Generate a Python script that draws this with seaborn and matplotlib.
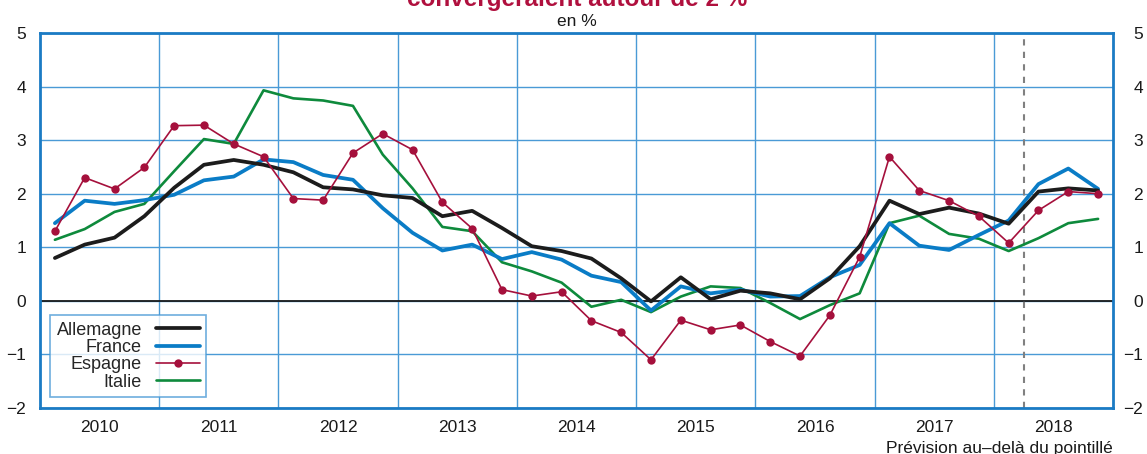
import pandas as pd
import matplotlib
matplotlib.use("Agg")
import matplotlib.pyplot as plt
import matplotlib.transforms as mtrans
import seaborn as sns

# --- Data: quarterly inflation, 2010Q1 -> 2018Q4 (en %) ---
years = [2010, 2011, 2012, 2013, 2014, 2015, 2016, 2017, 2018]
allemagne = [0.80, 1.05, 1.18, 1.58, 2.11, 2.54, 2.63, 2.54, 2.40, 2.12, 2.08, 1.97,
             1.92, 1.58, 1.68, 1.36, 1.02, 0.93, 0.79, 0.42, -0.01, 0.44, 0.03, 0.19,
             0.14, 0.03, 0.42, 1.02, 1.87, 1.62, 1.74, 1.63, 1.44, 2.04, 2.10, 2.06]
france = [1.45, 1.87, 1.81, 1.88, 1.98, 2.25, 2.32, 2.64, 2.59, 2.35, 2.26, 1.73,
          1.27, 0.94, 1.05, 0.78, 0.91, 0.77, 0.47, 0.35, -0.18, 0.27, 0.14, 0.21,
          0.08, 0.09, 0.44, 0.67, 1.45, 1.03, 0.95, 1.23, 1.50, 2.18, 2.47, 2.09]
espagne = [1.30, 2.30, 2.09, 2.49, 3.27, 3.28, 2.93, 2.69, 1.91, 1.88, 2.76, 3.12,
           2.82, 1.84, 1.35, 0.21, 0.09, 0.17, -0.37, -0.59, -1.10, -0.36, -0.54, -0.45,
           -0.76, -1.03, -0.27, 0.82, 2.69, 2.06, 1.87, 1.58, 1.08, 1.69, 2.04, 2.00]
italie = [1.14, 1.34, 1.66, 1.81, 2.42, 3.02, 2.93, 3.93, 3.78, 3.74, 3.64, 2.73,
          2.10, 1.38, 1.30, 0.72, 0.55, 0.34, -0.11, 0.02, -0.21, 0.08, 0.27, 0.24,
          -0.04, -0.34, -0.08, 0.14, 1.45, 1.59, 1.25, 1.16, 0.93, 1.17, 1.45, 1.53]
forecast_start = 2018.25  # dashed line: forecast beyond this point

n = len(allemagne)
t = [years[0] + (i + 0.5) / 4 for i in range(n)]
df = pd.DataFrame({"t": t, "Allemagne": allemagne, "France": france,
                   "Espagne": espagne, "Italie": italie})

sns.set_theme(style="white")
plt.rcParams["font.family"] = ["Liberation Sans", "DejaVu Sans"]
plt.rcParams["axes.unicode_minus"] = True

blue_frame = "#1b7bc4"
grid_blue = "#4a9ad6"
fs = 12.5

fig = plt.figure(figsize=(11.47, 4.54), dpi=100)
ax = fig.add_axes([40 / 1147, 1 - 408 / 454, 1073 / 1147, 375 / 454])

# grid
for y in range(-2, 6):
    ax.axhline(y, color=grid_blue, lw=1.0, zorder=0)
for yr in years[1:]:
    ax.axvline(yr, color=grid_blue, lw=1.0, zorder=0)
ax.axhline(0, color="#1a1a1a", lw=1.3, zorder=1)
ax.axvline(forecast_start, color="#808080", lw=1.5, ls=(0, (3, 3)), zorder=1)

sns.lineplot(data=df, x="t", y="Allemagne", color="#1c1c1c", lw=2.7, ax=ax,
             label="Allemagne", zorder=4)
sns.lineplot(data=df, x="t", y="France", color="#0a7cc6", lw=2.7, ax=ax,
             label="France", zorder=3)
sns.lineplot(data=df, x="t", y="Espagne", color="#a5103c", lw=1.2, marker="o",
             markersize=6, markeredgewidth=0, ax=ax, label="Espagne", zorder=5)
sns.lineplot(data=df, x="t", y="Italie", color="#0e8a3c", lw=1.9, ax=ax,
             label="Italie", zorder=2)

ax.set_xlim(years[0], years[-1] + 1)
ax.set_ylim(-2, 5)
ax.set_xlabel("")
ax.set_ylabel("")
ax.set_yticks(range(-2, 6))
ax.set_xticks([y + 0.5 for y in years])
ax.set_xticklabels([str(y) for y in years])
ax.tick_params(axis="both", length=0, labelsize=fs, colors="#1a1a1a")
ax.tick_params(axis="x", pad=9)
ax.tick_params(axis="y", pad=10, labelright=True, right=False)
# right-hand labels are right-aligned near the figure edge
shift = mtrans.ScaledTranslation(16 / 100, 0, fig.dpi_scale_trans)
for tick in ax.yaxis.get_major_ticks():
    tick.label2.set_horizontalalignment("right")
    tick.label2.set_transform(tick.label2.get_transform() + shift)

for s in ax.spines.values():
    s.set_visible(True)
    s.set_color(blue_frame)
    s.set_linewidth(2.0)

leg = ax.legend(loc="lower left", bbox_to_anchor=(0.0095, 0.029), markerfirst=False,
                frameon=True, fancybox=False, fontsize=13, handlelength=2.4,
                borderpad=0.35, labelspacing=0.02, handletextpad=0.8, borderaxespad=0)
leg.get_frame().set_edgecolor(grid_blue)
leg.get_frame().set_linewidth(1.2)
for txt in leg.get_texts():
    txt.set_ha("right")
leg._legend_box.align = "right"

fig.text(577 / 1147, 1 - 22 / 454, "en %", ha="center", va="center", fontsize=fs,
         color="#1a1a1a")
fig.text(577 / 1147, 1 - 6 / 454, "convergeraient autour de 2 %", ha="center",
         va="baseline", fontsize=17.5, fontweight="bold", color="#b0103e")
fig.text(1113 / 1147, 1 - 448 / 454, "Prévision au\u2013delà du pointillé", ha="right",
         va="center", fontsize=fs, color="#1a1a1a")

fig.savefig("out.png", dpi=100)
